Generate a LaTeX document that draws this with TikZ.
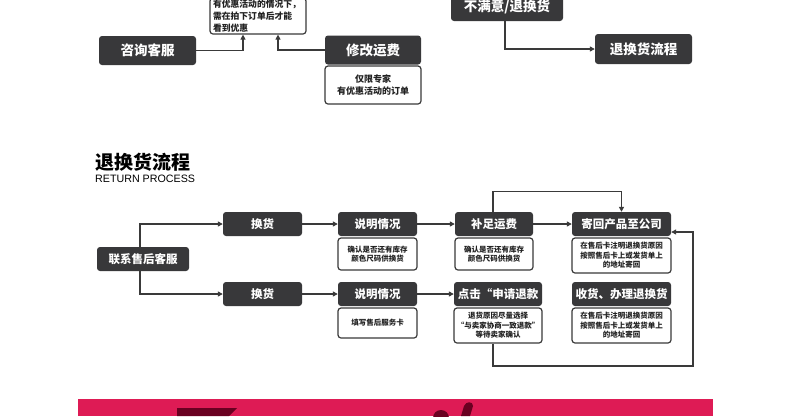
\documentclass[tikz,border=0pt]{standalone}
\usepackage{fontspec}
\setmainfont{Noto Sans CJK SC}
\newfontfamily\latinfont{Liberation Sans}
\usetikzlibrary{arrows.meta}
\definecolor{hdrc}{HTML}{38383A}
\definecolor{linec}{HTML}{3A3A3A}
\definecolor{band}{HTML}{DE1B55}
\definecolor{maroonc}{HTML}{6A0021}
\definecolor{txtc}{HTML}{222222}
\begin{document}
\begin{tikzpicture}[x=1pt,y=-1pt,
  hdr/.style={fill=hdrc, rounded corners=3pt, text=white, inner sep=0pt,
    font=\bfseries\fontsize{11.5}{13}\selectfont},
  bighdr/.style={hdr, font=\bfseries\fontsize{13.5}{15}\selectfont},
  subbox/.style={draw=linec, line width=1.2pt, fill=white, rounded corners=3pt,
    inner sep=0pt, align=center, text=txtc,
    font=\bfseries\fontsize{7.5}{9.5}\selectfont},
  note/.style={subbox, font=\bfseries\fontsize{8.8}{12}\selectfont},
  arr/.style={draw=linec, line width=1.2pt, -{Triangle[length=5pt,width=5pt]}}
]
\useasboundingbox (0,0) rectangle (790,416);
\clip (0,0) rectangle (790,416);
\fill[white] (0,0) rectangle (790,416);

% ---------- top part ----------
\node[bighdr, minimum width=97pt, minimum height=29pt] (zx) at (147.5,50.5) {咨询客服};
\node[note, minimum width=96pt, minimum height=36pt, text width=90pt, align=left] (yh) at (258,16)
  {有优惠活动的情况下，\\需在拍下订单后才能\\看到优惠};
\node[bighdr, minimum width=96pt, minimum height=29pt] (xg) at (373,50) {修改运费};
\node[note, minimum width=96pt, minimum height=38pt, font=\bfseries\fontsize{9}{12}\selectfont] (xgs) at (373,85)
  {仅限专家\\有优惠活动的订单};
\node[bighdr, minimum width=112pt, minimum height=29pt] (bmy) at (507,6.5) {不满意/退换货};
\node[bighdr, minimum width=97pt, minimum height=30pt] (thl) at (643.5,49) {退换货流程};

\draw[arr] (zx.east) -| ([xshift=-15pt]yh.south);
\draw[arr] (xg.west) -| ([xshift=20pt]yh.south);
\draw[arr] ([xshift=-2pt]bmy.south) |- (thl.west);

% ---------- title ----------
\node[anchor=west, inner sep=0pt, text=black, font=\bfseries\fontsize{19}{20}\selectfont] (tt) at (95,162.5) {退换货流程};
\node[anchor=west, inner sep=0pt, text=black, font=\latinfont\fontsize{10.7}{11}\selectfont] (te) at (95,179) {RETURN PROCESS};

% ---------- flow ----------
\node[hdr, minimum width=92pt, minimum height=24pt] (lx) at (143,259) {联系售后客服};

\node[hdr, minimum width=79pt, minimum height=24pt] (hh1) at (262.5,224) {换货};
\node[hdr, minimum width=79pt, minimum height=24pt] (sm1) at (377.5,224) {说明情况};
\node[subbox, minimum width=79pt, minimum height=32pt] (sm1s) at (377.5,254) {确认是否还有库存\\颜色尺码供换货};
\node[hdr, minimum width=78pt, minimum height=24pt] (bz) at (494,224) {补足运费};
\node[subbox, minimum width=78pt, minimum height=32pt] (bzs) at (494,254) {确认是否还有库存\\颜色尺码供换货};
\node[hdr, minimum width=99pt, minimum height=24pt] (jh) at (621.5,224) {寄回产品至公司};
\node[subbox, minimum width=99pt, minimum height=35pt] (jhs) at (621.5,255.5) {在售后卡注明退换货原因\\按照售后卡上或发货单上\\的地址寄回};

\node[hdr, minimum width=79pt, minimum height=24pt] (hh2) at (262.5,294) {换货};
\node[hdr, minimum width=79pt, minimum height=24pt] (sm2) at (377.5,294) {说明情况};
\node[subbox, minimum width=79pt, minimum height=30pt] (sm2s) at (377.5,323) {填写售后服务卡};
\node[hdr, minimum width=88pt, minimum height=24pt] (dj) at (498,294) {点击“申请退款};
\node[subbox, minimum width=88pt, minimum height=35pt] (djs) at (498,325.5) {退货原因尽量选择\\“与卖家协商一致退款”\\等待卖家确认};
\node[hdr, minimum width=99pt, minimum height=24pt] (sh) at (621.5,294) {收货、办理退换货};
\node[subbox, minimum width=99pt, minimum height=35pt] (shs) at (621.5,325.5) {在售后卡注明退换货原因\\按照售后卡上或发货单上\\的地址寄回};

\coordinate (lp) at (693,366);

\draw[arr] ([xshift=-3pt]lx.north) |- (hh1.west);
\draw[arr] ([xshift=-3pt]lx.south) |- (hh2.west);
\draw[arr] (hh1.east) -- (sm1.west);
\draw[arr] (sm1.east) -- (bz.west);
\draw[arr] (bz.east) -- (jh.west);
\draw[arr] (hh2.east) -- (sm2.west);
\draw[arr] (sm2.east) -- (dj.west);
\draw[arr] ([xshift=-1pt]bz.north) -- ++(0,-20) -| (jh.north);
\draw[arr] ([xshift=-5pt]djs.south) |- (lp) |- ([yshift=-8pt]jh.east);

% ---------- bottom band ----------
\fill[band] (78,399) rectangle (713,416);
\fill[maroonc] (177,408) -- (237,408) -- (229,416) -- (177,416) -- cycle;
\fill[maroonc] (461,416) -- (464,406) .. controls (466,401) and (473,401) .. (473,406) -- (470,416) -- cycle;
\fill[maroonc] (441,418) circle (8);
\end{tikzpicture}
\end{document}
